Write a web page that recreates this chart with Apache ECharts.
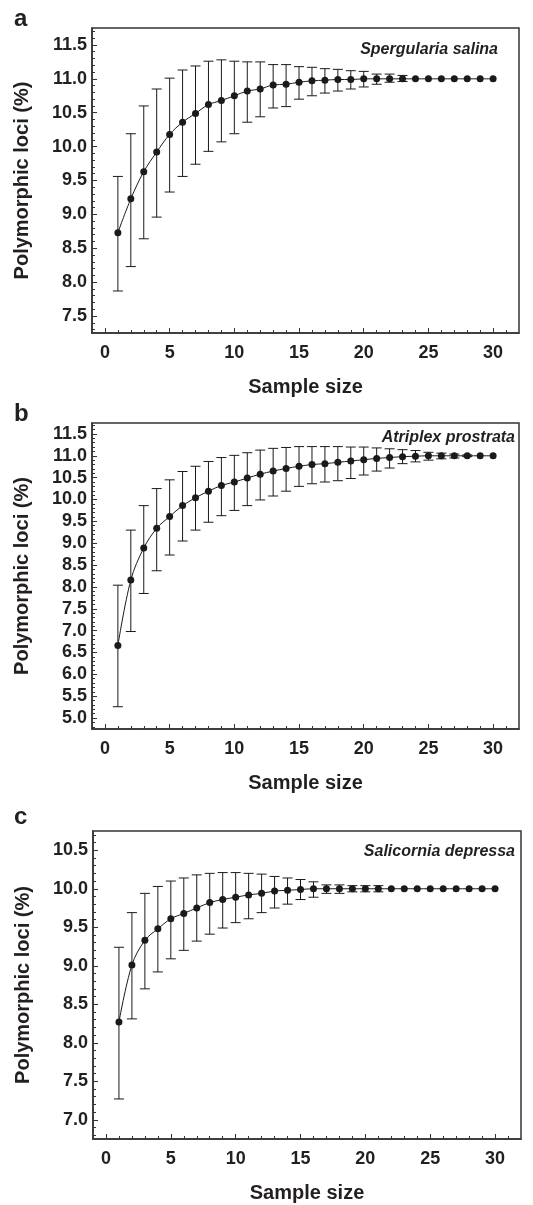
<!DOCTYPE html>
<html>
<head>
<meta charset="utf-8">
<script src="https://cdn.jsdelivr.net/npm/echarts@6/dist/echarts.min.js"></script>
<style>
html,body{margin:0;padding:0;background:#fff;}
#chart{width:533px;height:1205px;}
</style>
</head>
<body>
<div id="chart"></div>
<script>
// ---- data ----
const sampleSize = [1,2,3,4,5,6,7,8,9,10,11,12,13,14,15,16,17,18,19,20,21,22,23,24,25,26,27,28,29,30];

const meanA  = [8.73,9.23,9.63,9.92,10.18,10.36,10.49,10.62,10.68,10.75,10.82,10.85,10.91,10.92,10.95,10.97,10.98,10.99,10.99,11.00,11.00,11.00,11.00,11.00,11.00,11.00,11.00,11.00,11.00,11.00];
const upperA = [9.56,10.19,10.60,10.85,11.01,11.13,11.19,11.26,11.28,11.26,11.25,11.25,11.21,11.21,11.18,11.17,11.15,11.14,11.12,11.11,11.07,11.07,11.05,11.00,11.00,11.00,11.00,11.00,11.00,11.00];
const lowerA = [7.87,8.23,8.64,8.96,9.33,9.56,9.74,9.93,10.07,10.19,10.36,10.44,10.57,10.59,10.70,10.75,10.79,10.82,10.85,10.88,10.92,10.95,10.96,11.00,11.00,11.00,11.00,11.00,11.00,11.00];

const meanB  = [6.66,8.16,8.89,9.34,9.61,9.86,10.04,10.19,10.32,10.40,10.49,10.58,10.65,10.71,10.76,10.80,10.82,10.85,10.88,10.91,10.94,10.96,10.98,10.99,11.00,11.00,11.00,11.00,11.00,11.00];
const upperB = [8.04,9.30,9.86,10.25,10.45,10.64,10.76,10.87,10.96,11.01,11.07,11.13,11.17,11.19,11.21,11.21,11.21,11.21,11.20,11.20,11.18,11.16,11.14,11.12,11.08,11.06,11.04,11.02,11.00,11.00];
const lowerB = [5.26,6.98,7.85,8.37,8.73,9.05,9.30,9.48,9.63,9.75,9.86,9.99,10.08,10.19,10.30,10.36,10.40,10.43,10.48,10.56,10.65,10.72,10.82,10.86,10.90,10.93,10.95,10.98,11.00,11.00];

const meanC  = [8.27,9.01,9.33,9.48,9.61,9.68,9.75,9.82,9.86,9.89,9.92,9.94,9.97,9.98,9.99,10.00,10.00,10.00,10.00,10.00,10.00,10.00,10.00,10.00,10.00,10.00,10.00,10.00,10.00,10.00];
const upperC = [9.24,9.69,9.94,10.03,10.10,10.14,10.18,10.20,10.21,10.21,10.20,10.19,10.16,10.14,10.12,10.09,10.05,10.05,10.04,10.04,10.04,10.00,10.00,10.00,10.00,10.00,10.00,10.00,10.00,10.00];
const lowerC = [7.27,8.31,8.70,8.92,9.09,9.20,9.32,9.41,9.49,9.56,9.61,9.69,9.75,9.80,9.86,9.89,9.94,9.94,9.96,9.96,9.96,10.00,10.00,10.00,10.00,10.00,10.00,10.00,10.00,10.00];

const xTicks  = [0,5,10,15,20,25,30];
const yTicksA = [7.5,8.0,8.5,9.0,9.5,10.0,10.5,11.0,11.5];
const yTicksB = [5.0,5.5,6.0,6.5,7.0,7.5,8.0,8.5,9.0,9.5,10.0,10.5,11.0,11.5];
const yTicksC = [7.0,7.5,8.0,8.5,9.0,9.5,10.0,10.5];

const species = ['Spergularia salina','Atriplex prostrata','Salicornia depressa'];
const panelLetters = ['a','b','c'];
const xTitle = 'Sample size';
const yTitle = 'Polymorphic loci (%)';

// ---- layout / style ----
const FONT = '"Liberation Sans", Arial, sans-serif';
const INK = '#231f20';
const panels = [
  {grid:{left:92, top:28, width:427, height:305}, ymin:7.25, ymax:11.75, yTicks:yTicksA, mean:meanA, up:upperA, lo:lowerA,
   letterY:17, spX:498, spY:50},
  {grid:{left:92, top:423, width:427, height:306}, ymin:4.75, ymax:11.75, yTicks:yTicksB, mean:meanB, up:upperB, lo:lowerB,
   letterY:412, spX:515, spY:438},
  {grid:{left:93, top:831, width:428, height:308}, ymin:6.75, ymax:10.75, yTicks:yTicksC, mean:meanC, up:upperC, lo:lowerC,
   letterY:815, spX:515, spY:852}
];

function range(a, b, step) { const r = []; for (let v = a; v <= b + 1e-9; v += step) r.push(Math.round(v * 100) / 100); return r; }
const xMinor = range(-1, 32, 1).filter(v => xTicks.indexOf(v) < 0 && v > -1 && v < 32);

const grids = [], xAxes = [], yAxes = [], series = [], graphics = [];

panels.forEach((p, i) => {
  grids.push(Object.assign({show:true, borderColor:'#333', borderWidth:1.5, containLabel:false}, p.grid));
  // main x axis
  xAxes.push({
    type:'value', gridIndex:i, min:-1, max:32, position:'bottom',
    axisLine:{show:true, onZero:false, lineStyle:{color:'#333', width:1.5}},
    axisTick:{show:true, inside:true, length:5, customValues:xTicks, lineStyle:{color:'#333', width:1}},
    axisLabel:{show:true, customValues:xTicks, margin:11, color:INK, fontFamily:FONT, fontWeight:'bold', fontSize:18},
    splitLine:{show:false},
    name:xTitle, nameLocation:'middle', nameGap:44,
    nameTextStyle:{color:INK, fontFamily:FONT, fontWeight:'bold', fontSize:20}
  });
  // minor x ticks
  xAxes.push({
    type:'value', gridIndex:i, min:-1, max:32, position:'bottom',
    axisLine:{show:false, onZero:false},
    axisTick:{show:true, inside:true, length:3, customValues:xMinor, lineStyle:{color:'#333', width:1}},
    axisLabel:{show:false}, splitLine:{show:false}
  });
  const yMinor = range(p.ymin, p.ymax, 0.1).map(v => Math.round(v * 10) / 10)
    .filter((v, k, arr) => arr.indexOf(v) === k && v > p.ymin && v < p.ymax && p.yTicks.indexOf(v) < 0);
  yAxes.push({
    type:'value', gridIndex:i, min:p.ymin, max:p.ymax, position:'left',
    axisLine:{show:true, onZero:false, lineStyle:{color:'#333', width:1.5}},
    axisTick:{show:true, inside:true, length:5, customValues:p.yTicks, lineStyle:{color:'#333', width:1}},
    axisLabel:{show:true, customValues:p.yTicks, margin:5, color:INK, fontFamily:FONT, fontWeight:'bold', fontSize:18,
      formatter: v => Number(v).toFixed(1)},
    splitLine:{show:false},
    name:yTitle, nameLocation:'middle', nameGap:60,
    nameTextStyle:{color:INK, fontFamily:FONT, fontWeight:'bold', fontSize:20}
  });
  yAxes.push({
    type:'value', gridIndex:i, min:p.ymin, max:p.ymax, position:'left',
    axisLine:{show:false, onZero:false},
    axisTick:{show:true, inside:true, length:3, customValues:yMinor, lineStyle:{color:'#333', width:1}},
    axisLabel:{show:false}, splitLine:{show:false}
  });

  const errData = sampleSize.map((x, k) => [x, p.lo[k], p.up[k]]);
  series.push({
    type:'custom', xAxisIndex:2*i, yAxisIndex:2*i, silent:true, z:2,
    encode:{x:0, y:[1,2]},
    data:errData,
    renderItem:function(params, api){
      const x = api.value(0), lo = api.value(1), hi = api.value(2);
      if (hi - lo < 1e-6) return null;
      const a = api.coord([x, hi]), b = api.coord([x, lo]);
      const w = 5;
      const st = {stroke:'#1a1a1a', lineWidth:1};
      return {type:'group', children:[
        {type:'line', shape:{x1:a[0], y1:a[1], x2:b[0], y2:b[1]}, style:st},
        {type:'line', shape:{x1:a[0]-w, y1:a[1], x2:a[0]+w, y2:a[1]}, style:st},
        {type:'line', shape:{x1:b[0]-w, y1:b[1], x2:b[0]+w, y2:b[1]}, style:st}
      ]};
    }
  });
  series.push({
    type:'line', xAxisIndex:2*i, yAxisIndex:2*i, z:3, silent:true,
    data:sampleSize.map((x, k) => [x, p.mean[k]]),
    smooth:0.35,
    symbol:'circle', symbolSize:7,
    lineStyle:{color:'#1a1a1a', width:1},
    itemStyle:{color:'#1a1a1a', borderWidth:0}
  });

  graphics.push({type:'text', left:14, top:p.letterY - 10, z:10,
    style:{text:panelLetters[i], fill:INK, font:'bold 24px ' + FONT}});
  graphics.push({type:'text', z:10, x:p.spX, y:p.spY,
    style:{text:species[i], fill:INK, font:'italic bold 16px ' + FONT, align:'right', verticalAlign:'middle'}});
});

const chart = echarts.init(document.getElementById('chart'), null, {renderer:'canvas'});
chart.setOption({
  animation:false,
  backgroundColor:'#fff',
  grid:grids, xAxis:xAxes, yAxis:yAxes, series:series, graphic:graphics
});
</script>
</body>
</html>
